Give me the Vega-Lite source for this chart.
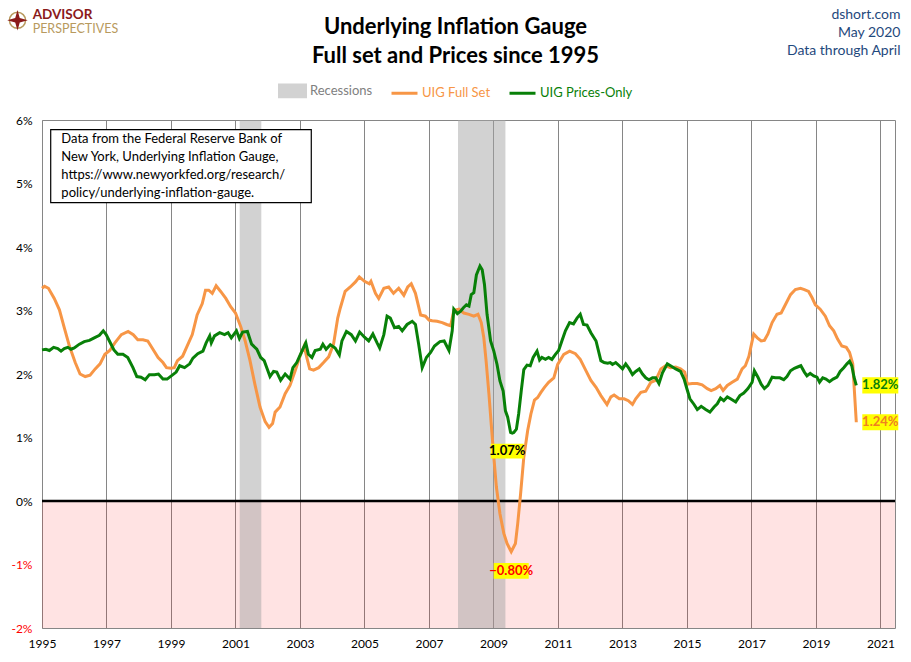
{
  "$schema": "https://vega.github.io/schema/vega-lite/v6.json",
  "width": 853,
  "height": 508,
  "autosize": {"type": "none"},
  "padding": {"left": 42, "top": 120, "right": 16, "bottom": 34},
  "background": "white",
  "title": {
    "text": ["Underlying Inflation Gauge", "Full set and Prices since 1995"],
    "font": "Lato",
    "fontSize": 22,
    "fontWeight": "bold",
    "lineHeight": 29,
    "anchor": "middle",
    "frame": "group",
    "dx": -13,
    "dy": 70,
    "offset": 10,
    "color": "#000000"
  },
  "datasets": {
    "recessions": [
      {"start": 2001.13, "end": 2001.8},
      {"start": 2007.9, "end": 2009.37}
    ],
    "full": [
      {"t": 1995.00, "v": 3.35}, {"t": 1995.08, "v": 3.38}, {"t": 1995.20, "v": 3.35}, {"t": 1995.38, "v": 3.19},
      {"t": 1995.54, "v": 3.01}, {"t": 1995.69, "v": 2.73}, {"t": 1995.85, "v": 2.44}, {"t": 1996.03, "v": 2.18},
      {"t": 1996.18, "v": 2.00}, {"t": 1996.34, "v": 1.96}, {"t": 1996.49, "v": 1.98}, {"t": 1996.65, "v": 2.08},
      {"t": 1996.80, "v": 2.16}, {"t": 1996.95, "v": 2.31}, {"t": 1997.10, "v": 2.37}, {"t": 1997.26, "v": 2.49},
      {"t": 1997.46, "v": 2.62}, {"t": 1997.67, "v": 2.67}, {"t": 1997.83, "v": 2.62}, {"t": 1997.97, "v": 2.54},
      {"t": 1998.13, "v": 2.54}, {"t": 1998.28, "v": 2.52}, {"t": 1998.44, "v": 2.39}, {"t": 1998.60, "v": 2.26},
      {"t": 1998.75, "v": 2.18}, {"t": 1998.86, "v": 2.10}, {"t": 1999.00, "v": 2.09}, {"t": 1999.10, "v": 2.10},
      {"t": 1999.20, "v": 2.21}, {"t": 1999.36, "v": 2.28}, {"t": 1999.50, "v": 2.44}, {"t": 1999.66, "v": 2.62},
      {"t": 1999.81, "v": 2.93}, {"t": 1999.97, "v": 3.11}, {"t": 2000.07, "v": 3.32}, {"t": 2000.17, "v": 3.32},
      {"t": 2000.28, "v": 3.27}, {"t": 2000.40, "v": 3.39}, {"t": 2000.54, "v": 3.30}, {"t": 2000.70, "v": 3.19},
      {"t": 2000.85, "v": 3.06}, {"t": 2001.00, "v": 2.96}, {"t": 2001.16, "v": 2.75}, {"t": 2001.30, "v": 2.52},
      {"t": 2001.45, "v": 2.21}, {"t": 2001.60, "v": 1.84}, {"t": 2001.76, "v": 1.48}, {"t": 2001.92, "v": 1.25},
      {"t": 2002.04, "v": 1.16}, {"t": 2002.15, "v": 1.22}, {"t": 2002.23, "v": 1.40}, {"t": 2002.38, "v": 1.48},
      {"t": 2002.54, "v": 1.69}, {"t": 2002.69, "v": 1.82}, {"t": 2002.85, "v": 2.05}, {"t": 2003.00, "v": 2.28},
      {"t": 2003.13, "v": 2.44}, {"t": 2003.21, "v": 2.26}, {"t": 2003.30, "v": 2.08}, {"t": 2003.42, "v": 2.06},
      {"t": 2003.58, "v": 2.10}, {"t": 2003.73, "v": 2.18}, {"t": 2003.89, "v": 2.27}, {"t": 2004.04, "v": 2.47},
      {"t": 2004.17, "v": 2.88}, {"t": 2004.25, "v": 3.04}, {"t": 2004.40, "v": 3.30}, {"t": 2004.56, "v": 3.37},
      {"t": 2004.72, "v": 3.45}, {"t": 2004.84, "v": 3.53}, {"t": 2005.00, "v": 3.46}, {"t": 2005.15, "v": 3.42},
      {"t": 2005.20, "v": 3.46}, {"t": 2005.34, "v": 3.27}, {"t": 2005.44, "v": 3.19}, {"t": 2005.60, "v": 3.35},
      {"t": 2005.75, "v": 3.37}, {"t": 2005.90, "v": 3.27}, {"t": 2006.06, "v": 3.35}, {"t": 2006.22, "v": 3.24},
      {"t": 2006.34, "v": 3.37}, {"t": 2006.45, "v": 3.42}, {"t": 2006.58, "v": 3.27}, {"t": 2006.74, "v": 2.93},
      {"t": 2006.89, "v": 2.91}, {"t": 2007.00, "v": 2.85}, {"t": 2007.10, "v": 2.84}, {"t": 2007.25, "v": 2.83},
      {"t": 2007.41, "v": 2.81}, {"t": 2007.55, "v": 2.78}, {"t": 2007.67, "v": 2.76}, {"t": 2007.77, "v": 3.00},
      {"t": 2007.93, "v": 3.02}, {"t": 2008.08, "v": 2.96}, {"t": 2008.24, "v": 2.94}, {"t": 2008.39, "v": 2.91},
      {"t": 2008.52, "v": 2.94}, {"t": 2008.62, "v": 2.81}, {"t": 2008.70, "v": 2.57}, {"t": 2008.77, "v": 2.21},
      {"t": 2008.86, "v": 1.68}, {"t": 2008.93, "v": 1.21}, {"t": 2009.01, "v": 0.69}, {"t": 2009.09, "v": 0.22},
      {"t": 2009.20, "v": -0.20}, {"t": 2009.32, "v": -0.51}, {"t": 2009.42, "v": -0.67}, {"t": 2009.55, "v": -0.80},
      {"t": 2009.68, "v": -0.67}, {"t": 2009.75, "v": -0.36}, {"t": 2009.84, "v": 0.11}, {"t": 2009.94, "v": 0.69},
      {"t": 2010.06, "v": 1.11}, {"t": 2010.16, "v": 1.37}, {"t": 2010.27, "v": 1.59}, {"t": 2010.37, "v": 1.63},
      {"t": 2010.47, "v": 1.71}, {"t": 2010.58, "v": 1.79}, {"t": 2010.71, "v": 1.87}, {"t": 2010.87, "v": 1.94},
      {"t": 2010.99, "v": 2.15}, {"t": 2011.18, "v": 2.31}, {"t": 2011.36, "v": 2.36}, {"t": 2011.54, "v": 2.32},
      {"t": 2011.69, "v": 2.23}, {"t": 2011.87, "v": 2.05}, {"t": 2012.02, "v": 1.90}, {"t": 2012.18, "v": 1.79},
      {"t": 2012.33, "v": 1.66}, {"t": 2012.52, "v": 1.52}, {"t": 2012.64, "v": 1.64}, {"t": 2012.74, "v": 1.67},
      {"t": 2012.90, "v": 1.61}, {"t": 2013.05, "v": 1.61}, {"t": 2013.18, "v": 1.58}, {"t": 2013.31, "v": 1.52},
      {"t": 2013.41, "v": 1.61}, {"t": 2013.57, "v": 1.71}, {"t": 2013.72, "v": 1.73}, {"t": 2013.88, "v": 1.87},
      {"t": 2014.03, "v": 1.90}, {"t": 2014.19, "v": 2.08}, {"t": 2014.34, "v": 2.13}, {"t": 2014.49, "v": 2.10},
      {"t": 2014.65, "v": 2.11}, {"t": 2014.80, "v": 2.08}, {"t": 2014.93, "v": 2.03}, {"t": 2015.01, "v": 1.84},
      {"t": 2015.16, "v": 1.85}, {"t": 2015.32, "v": 1.85}, {"t": 2015.47, "v": 1.83}, {"t": 2015.63, "v": 1.77},
      {"t": 2015.75, "v": 1.74}, {"t": 2015.89, "v": 1.77}, {"t": 2016.02, "v": 1.82}, {"t": 2016.12, "v": 1.74},
      {"t": 2016.25, "v": 1.82}, {"t": 2016.40, "v": 1.87}, {"t": 2016.56, "v": 1.92}, {"t": 2016.71, "v": 2.08},
      {"t": 2016.81, "v": 2.13}, {"t": 2016.92, "v": 2.28}, {"t": 2017.00, "v": 2.47}, {"t": 2017.07, "v": 2.63},
      {"t": 2017.18, "v": 2.57}, {"t": 2017.30, "v": 2.52}, {"t": 2017.40, "v": 2.53}, {"t": 2017.51, "v": 2.63},
      {"t": 2017.64, "v": 2.81}, {"t": 2017.79, "v": 2.94}, {"t": 2017.92, "v": 2.96}, {"t": 2018.05, "v": 3.09},
      {"t": 2018.21, "v": 3.25}, {"t": 2018.36, "v": 3.33}, {"t": 2018.52, "v": 3.35}, {"t": 2018.64, "v": 3.33},
      {"t": 2018.77, "v": 3.30}, {"t": 2018.88, "v": 3.20}, {"t": 2018.98, "v": 3.09}, {"t": 2019.13, "v": 3.02},
      {"t": 2019.29, "v": 2.91}, {"t": 2019.42, "v": 2.76}, {"t": 2019.55, "v": 2.68}, {"t": 2019.67, "v": 2.55},
      {"t": 2019.80, "v": 2.44}, {"t": 2019.94, "v": 2.42}, {"t": 2020.04, "v": 2.34}, {"t": 2020.14, "v": 2.16},
      {"t": 2020.25, "v": 1.24}
    ],
    "prices": [
      {"t": 1995.00, "v": 2.38}, {"t": 1995.12, "v": 2.39}, {"t": 1995.23, "v": 2.37}, {"t": 1995.36, "v": 2.42},
      {"t": 1995.49, "v": 2.40}, {"t": 1995.59, "v": 2.36}, {"t": 1995.69, "v": 2.40}, {"t": 1995.80, "v": 2.42},
      {"t": 1995.90, "v": 2.39}, {"t": 1996.00, "v": 2.41}, {"t": 1996.16, "v": 2.47}, {"t": 1996.31, "v": 2.51},
      {"t": 1996.47, "v": 2.53}, {"t": 1996.62, "v": 2.57}, {"t": 1996.78, "v": 2.61}, {"t": 1996.90, "v": 2.68},
      {"t": 1996.99, "v": 2.62}, {"t": 1997.09, "v": 2.52}, {"t": 1997.23, "v": 2.38}, {"t": 1997.35, "v": 2.31},
      {"t": 1997.51, "v": 2.31}, {"t": 1997.66, "v": 2.26}, {"t": 1997.82, "v": 2.10}, {"t": 1997.94, "v": 1.96},
      {"t": 1998.07, "v": 1.95}, {"t": 1998.20, "v": 1.91}, {"t": 1998.33, "v": 1.99}, {"t": 1998.49, "v": 1.99},
      {"t": 1998.61, "v": 2.00}, {"t": 1998.75, "v": 1.92}, {"t": 1998.88, "v": 1.92}, {"t": 1999.01, "v": 1.97},
      {"t": 1999.16, "v": 2.03}, {"t": 1999.27, "v": 2.13}, {"t": 1999.42, "v": 2.10}, {"t": 1999.58, "v": 2.16},
      {"t": 1999.68, "v": 2.25}, {"t": 1999.83, "v": 2.32}, {"t": 1999.99, "v": 2.36}, {"t": 2000.09, "v": 2.49},
      {"t": 2000.20, "v": 2.60}, {"t": 2000.25, "v": 2.49}, {"t": 2000.35, "v": 2.60}, {"t": 2000.51, "v": 2.65},
      {"t": 2000.66, "v": 2.62}, {"t": 2000.77, "v": 2.65}, {"t": 2000.87, "v": 2.57}, {"t": 2001.03, "v": 2.68},
      {"t": 2001.12, "v": 2.56}, {"t": 2001.22, "v": 2.66}, {"t": 2001.37, "v": 2.67}, {"t": 2001.50, "v": 2.47},
      {"t": 2001.66, "v": 2.39}, {"t": 2001.78, "v": 2.26}, {"t": 2001.89, "v": 2.21}, {"t": 2001.97, "v": 2.10},
      {"t": 2002.07, "v": 1.96}, {"t": 2002.18, "v": 2.04}, {"t": 2002.28, "v": 2.03}, {"t": 2002.40, "v": 1.90},
      {"t": 2002.54, "v": 2.00}, {"t": 2002.69, "v": 1.92}, {"t": 2002.78, "v": 2.10}, {"t": 2002.90, "v": 2.18},
      {"t": 2003.06, "v": 2.36}, {"t": 2003.18, "v": 2.49}, {"t": 2003.26, "v": 2.31}, {"t": 2003.37, "v": 2.26},
      {"t": 2003.47, "v": 2.37}, {"t": 2003.63, "v": 2.39}, {"t": 2003.71, "v": 2.47}, {"t": 2003.81, "v": 2.39},
      {"t": 2003.94, "v": 2.46}, {"t": 2004.09, "v": 2.41}, {"t": 2004.22, "v": 2.30}, {"t": 2004.30, "v": 2.52},
      {"t": 2004.44, "v": 2.67}, {"t": 2004.59, "v": 2.62}, {"t": 2004.72, "v": 2.52}, {"t": 2004.85, "v": 2.66},
      {"t": 2005.00, "v": 2.58}, {"t": 2005.13, "v": 2.52}, {"t": 2005.26, "v": 2.63}, {"t": 2005.39, "v": 2.49},
      {"t": 2005.47, "v": 2.41}, {"t": 2005.60, "v": 2.62}, {"t": 2005.70, "v": 2.91}, {"t": 2005.80, "v": 2.88},
      {"t": 2005.93, "v": 2.73}, {"t": 2006.06, "v": 2.75}, {"t": 2006.17, "v": 2.68}, {"t": 2006.32, "v": 2.78},
      {"t": 2006.48, "v": 2.83}, {"t": 2006.58, "v": 2.78}, {"t": 2006.68, "v": 2.47}, {"t": 2006.79, "v": 2.10},
      {"t": 2006.92, "v": 2.26}, {"t": 2007.05, "v": 2.34}, {"t": 2007.17, "v": 2.44}, {"t": 2007.34, "v": 2.51},
      {"t": 2007.47, "v": 2.52}, {"t": 2007.62, "v": 2.37}, {"t": 2007.72, "v": 2.68}, {"t": 2007.77, "v": 3.02},
      {"t": 2007.88, "v": 2.95}, {"t": 2007.98, "v": 2.99}, {"t": 2008.06, "v": 3.04}, {"t": 2008.16, "v": 3.09},
      {"t": 2008.24, "v": 3.07}, {"t": 2008.31, "v": 3.25}, {"t": 2008.39, "v": 3.28}, {"t": 2008.47, "v": 3.56},
      {"t": 2008.58, "v": 3.70}, {"t": 2008.65, "v": 3.64}, {"t": 2008.72, "v": 3.41}, {"t": 2008.80, "v": 2.94},
      {"t": 2008.91, "v": 2.52}, {"t": 2009.01, "v": 2.36}, {"t": 2009.11, "v": 2.15}, {"t": 2009.20, "v": 1.89},
      {"t": 2009.30, "v": 1.73}, {"t": 2009.37, "v": 1.42}, {"t": 2009.44, "v": 1.32}, {"t": 2009.53, "v": 1.08},
      {"t": 2009.58, "v": 1.07}, {"t": 2009.63, "v": 1.08}, {"t": 2009.71, "v": 1.13}, {"t": 2009.78, "v": 1.37},
      {"t": 2009.86, "v": 1.73}, {"t": 2009.94, "v": 2.07}, {"t": 2010.04, "v": 2.14}, {"t": 2010.14, "v": 2.13},
      {"t": 2010.23, "v": 2.26}, {"t": 2010.35, "v": 2.36}, {"t": 2010.43, "v": 2.22}, {"t": 2010.50, "v": 2.26},
      {"t": 2010.61, "v": 2.23}, {"t": 2010.71, "v": 2.26}, {"t": 2010.81, "v": 2.23}, {"t": 2010.92, "v": 2.31},
      {"t": 2011.02, "v": 2.37}, {"t": 2011.12, "v": 2.52}, {"t": 2011.23, "v": 2.68}, {"t": 2011.36, "v": 2.81},
      {"t": 2011.48, "v": 2.79}, {"t": 2011.59, "v": 2.88}, {"t": 2011.69, "v": 2.94}, {"t": 2011.79, "v": 2.78},
      {"t": 2011.90, "v": 2.77}, {"t": 2012.02, "v": 2.65}, {"t": 2012.18, "v": 2.52}, {"t": 2012.33, "v": 2.21},
      {"t": 2012.43, "v": 2.18}, {"t": 2012.54, "v": 2.17}, {"t": 2012.62, "v": 2.18}, {"t": 2012.69, "v": 2.15},
      {"t": 2012.79, "v": 2.18}, {"t": 2012.90, "v": 2.13}, {"t": 2013.00, "v": 2.08}, {"t": 2013.10, "v": 2.16},
      {"t": 2013.21, "v": 2.08}, {"t": 2013.31, "v": 1.99}, {"t": 2013.41, "v": 2.04}, {"t": 2013.52, "v": 2.08},
      {"t": 2013.62, "v": 2.00}, {"t": 2013.72, "v": 1.94}, {"t": 2013.82, "v": 1.91}, {"t": 2013.93, "v": 1.94},
      {"t": 2014.03, "v": 1.94}, {"t": 2014.13, "v": 1.85}, {"t": 2014.24, "v": 2.02}, {"t": 2014.39, "v": 2.16},
      {"t": 2014.49, "v": 2.13}, {"t": 2014.65, "v": 2.08}, {"t": 2014.80, "v": 2.04}, {"t": 2014.91, "v": 1.92},
      {"t": 2014.99, "v": 1.78}, {"t": 2015.09, "v": 1.61}, {"t": 2015.22, "v": 1.52}, {"t": 2015.32, "v": 1.44},
      {"t": 2015.44, "v": 1.49}, {"t": 2015.58, "v": 1.44}, {"t": 2015.71, "v": 1.40}, {"t": 2015.84, "v": 1.48},
      {"t": 2015.94, "v": 1.53}, {"t": 2016.04, "v": 1.62}, {"t": 2016.14, "v": 1.58}, {"t": 2016.25, "v": 1.64},
      {"t": 2016.35, "v": 1.61}, {"t": 2016.51, "v": 1.56}, {"t": 2016.64, "v": 1.66}, {"t": 2016.76, "v": 1.70},
      {"t": 2016.89, "v": 1.77}, {"t": 2017.02, "v": 1.87}, {"t": 2017.09, "v": 2.05}, {"t": 2017.20, "v": 1.95},
      {"t": 2017.30, "v": 1.84}, {"t": 2017.40, "v": 1.77}, {"t": 2017.51, "v": 1.82}, {"t": 2017.64, "v": 1.95},
      {"t": 2017.74, "v": 1.94}, {"t": 2017.88, "v": 1.94}, {"t": 2018.00, "v": 1.91}, {"t": 2018.10, "v": 1.96},
      {"t": 2018.21, "v": 2.05}, {"t": 2018.33, "v": 2.09}, {"t": 2018.43, "v": 2.11}, {"t": 2018.53, "v": 2.13},
      {"t": 2018.64, "v": 2.03}, {"t": 2018.72, "v": 1.97}, {"t": 2018.82, "v": 2.01}, {"t": 2018.93, "v": 1.97},
      {"t": 2019.03, "v": 1.95}, {"t": 2019.11, "v": 1.87}, {"t": 2019.21, "v": 1.94}, {"t": 2019.31, "v": 1.92},
      {"t": 2019.42, "v": 1.88}, {"t": 2019.53, "v": 1.92}, {"t": 2019.65, "v": 1.95}, {"t": 2019.75, "v": 2.04},
      {"t": 2019.86, "v": 2.10}, {"t": 2019.96, "v": 2.16}, {"t": 2020.04, "v": 2.20}, {"t": 2020.11, "v": 2.13},
      {"t": 2020.18, "v": 1.95}, {"t": 2020.25, "v": 1.82}
    ]
  },
  "layer": [
    {
      "data": {"values": [{}]},
      "mark": {"type": "rect", "fill": "#ff0000", "fillOpacity": 0.11},
      "encoding": {
        "y": {"datum": 0, "type": "quantitative", "scale": {"domain": [-2, 6], "nice": false, "zero": false}},
        "y2": {"datum": -2}
      }
    },
    {
      "data": {"name": "recessions"},
      "mark": {"type": "rect", "fill": "#a6a6a6", "opacity": 0.5},
      "encoding": {
        "x": {"field": "start", "type": "quantitative", "scale": {"domain": [1995, 2021.45], "nice": false, "zero": false}},
        "x2": {"field": "end"}
      }
    },
    {
      "data": {"values": [{}]},
      "mark": {"type": "rule", "color": "#000000", "strokeWidth": 2.5},
      "encoding": {"y": {"datum": 0, "type": "quantitative"}}
    },
    {
      "data": {"name": "full"},
      "mark": {"type": "line", "strokeWidth": 3},
      "encoding": {
        "x": {
          "field": "t",
          "type": "quantitative",
          "scale": {"domain": [1995, 2021.45], "nice": false, "zero": false},
          "axis": {
            "title": null,
            "values": [1995, 1996, 1997, 1998, 1999, 2000, 2001, 2002, 2003, 2004, 2005, 2006, 2007, 2008, 2009, 2010, 2011, 2012, 2013, 2014, 2015, 2016, 2017, 2018, 2019, 2020, 2021],
            "format": "d",
            "labelExpr": "datum.value % 2 == 1 ? datum.label : ''",
            "gridColor": {"condition": {"test": "datum.value % 2 == 0", "value": "#d9d9d9"}, "value": "#868686"},
            "ticks": false,
            "domain": false,
            "labelPadding": 10,
            "labelOverlap": false,
            "labelFlush": false
          }
        },
        "y": {
          "field": "v",
          "type": "quantitative",
          "scale": {"domain": [-2, 6], "nice": false, "zero": false},
          "axis": {
            "title": null,
            "values": [-2, -1, 0, 1, 2, 3, 4, 5, 6],
            "labelExpr": "datum.value + '%'",
            "labelColor": {"condition": {"test": "datum.value < 0", "value": "#ff0000"}, "value": "#000000"},
            "gridColor": "#868686",
            "ticks": false,
            "domain": false,
            "labelPadding": 10
          }
        },
        "color": {
          "datum": "UIG Full Set",
          "scale": {
            "domain": ["Recessions", "UIG Full Set", "UIG Prices-Only"],
            "range": ["#d2d2d2", "#f79646", "#088008"]
          },
          "legend": {
            "title": null,
            "orient": "none",
            "legendX": 236,
            "legendY": -44,
            "direction": "horizontal",
            "labelFont": "Lato",
            "labelFontSize": 13,
            "labelOffset": 3,
            "columnPadding": 12,
            "symbolSize": 676,
            "encode": {
              "labels": {
                "update": {
                  "fill": {"signal": "datum.value === 'Recessions' ? '#808080' : datum.value === 'UIG Full Set' ? '#f79646' : '#088008'"}
                }
              },
              "symbols": {
                "update": {
                  "shape": {"signal": "datum.value === 'Recessions' ? 'M-1,-0.45H1V0.45H-1Z' : 'M-1,0H1'"},
                  "fill": {"signal": "datum.value === 'Recessions' ? '#d2d2d2' : 'transparent'"},
                  "stroke": {"signal": "datum.value === 'Recessions' ? 'transparent' : datum.value === 'UIG Full Set' ? '#f79646' : '#088008'"},
                  "strokeWidth": {"value": 3},
                  "opacity": {"value": 1}
                }
              }
            }
          }
        }
      }
    },
    {
      "data": {"name": "prices"},
      "mark": {"type": "line", "strokeWidth": 3},
      "encoding": {
        "x": {"field": "t", "type": "quantitative"},
        "y": {"field": "v", "type": "quantitative"},
        "color": {"datum": "UIG Prices-Only"}
      }
    },
    {
      "data": {"name": "full"},
      "transform": [
        {"joinaggregate": [{"op": "min", "field": "v", "as": "mn"}]},
        {"filter": "datum.v === datum.mn"},
        {"calculate": "format(datum.v, '.2f') + '%'", "as": "lab"}
      ],
      "encoding": {
        "x": {"field": "t", "type": "quantitative"},
        "y": {"field": "v", "type": "quantitative"}
      },
      "layer": [
        {"mark": {"type": "point", "shape": "M-1,-0.45H1V0.45H-1Z", "size": 1225, "filled": true, "color": "#ffff00", "opacity": 1, "yOffset": 19}},
        {"mark": {"type": "text", "font": "Lato", "fontSize": 13, "fontWeight": "bold", "color": "#ff0000", "yOffset": 19}, "encoding": {"text": {"field": "lab"}}}
      ]
    },
    {
      "data": {"name": "prices"},
      "transform": [
        {"joinaggregate": [{"op": "min", "field": "v", "as": "mn"}]},
        {"filter": "datum.v === datum.mn"},
        {"calculate": "format(datum.v, '.2f') + '%'", "as": "lab"}
      ],
      "encoding": {
        "x": {"field": "t", "type": "quantitative"},
        "y": {"field": "v", "type": "quantitative"}
      },
      "layer": [
        {"mark": {"type": "point", "shape": "M-1,-0.45H1V0.45H-1Z", "size": 1089, "filled": true, "color": "#ffff00", "opacity": 1, "xOffset": -5, "yOffset": 18}},
        {"mark": {"type": "text", "font": "Lato", "fontSize": 13, "fontWeight": "bold", "color": "#000000", "xOffset": -5, "yOffset": 18}, "encoding": {"text": {"field": "lab"}}}
      ]
    },
    {
      "data": {"name": "full"},
      "transform": [
        {"joinaggregate": [{"op": "max", "field": "t", "as": "mx"}]},
        {"filter": "datum.t === datum.mx"},
        {"calculate": "format(datum.v, '.2f') + '%'", "as": "lab"}
      ],
      "encoding": {
        "x": {"field": "t", "type": "quantitative"},
        "y": {"field": "v", "type": "quantitative"}
      },
      "layer": [
        {"mark": {"type": "point", "shape": "M-1,-0.45H1V0.45H-1Z", "size": 1296, "filled": true, "color": "#ffff00", "opacity": 1, "xOffset": 24}},
        {"mark": {"type": "text", "font": "Lato", "fontSize": 13, "fontWeight": "bold", "color": "#f08020", "xOffset": 24}, "encoding": {"text": {"field": "lab"}}}
      ]
    },
    {
      "data": {"name": "prices"},
      "transform": [
        {"joinaggregate": [{"op": "max", "field": "t", "as": "mx"}]},
        {"filter": "datum.t === datum.mx"},
        {"calculate": "format(datum.v, '.2f') + '%'", "as": "lab"}
      ],
      "encoding": {
        "x": {"field": "t", "type": "quantitative"},
        "y": {"field": "v", "type": "quantitative"}
      },
      "layer": [
        {"mark": {"type": "point", "shape": "M-1,-0.45H1V0.45H-1Z", "size": 1296, "filled": true, "color": "#ffff00", "opacity": 1, "xOffset": 24}},
        {"mark": {"type": "text", "font": "Lato", "fontSize": 13, "fontWeight": "bold", "color": "#088008", "xOffset": 24}, "encoding": {"text": {"field": "lab"}}}
      ]
    },
    {
      "data": {"values": [{}]},
      "mark": {"type": "rect", "fill": "#ffffff", "stroke": "#000000", "strokeWidth": 1.2},
      "encoding": {
        "x": {"datum": 1995.27, "type": "quantitative"},
        "x2": {"datum": 2003.35},
        "y": {"datum": 5.85, "type": "quantitative"},
        "y2": {"datum": 4.7}
      }
    },
    {
      "data": {"values": [{}]},
      "mark": {
        "type": "text",
        "align": "left",
        "baseline": "top",
        "font": "Lato",
        "fontSize": 13,
        "lineHeight": 18,
        "color": "#000000",
        "text": ["Data from the Federal Reserve Bank of", "New York, Underlying Inflation Gauge,", "https://www.newyorkfed.org/research/", "policy/underlying-inflation-gauge."]
      },
      "encoding": {
        "x": {"datum": 1995.6, "type": "quantitative"},
        "y": {"datum": 5.8, "type": "quantitative"}
      }
    },
    {
      "data": {"values": [{}]},
      "mark": {
        "type": "text",
        "align": "right",
        "baseline": "top",
        "font": "Lato",
        "fontSize": 14,
        "lineHeight": 18,
        "color": "#1f497d",
        "text": ["dshort.com", "May 2020", "Data through April"]
      },
      "encoding": {
        "x": {"datum": 2021.62, "type": "quantitative"},
        "y": {"datum": 7.76, "type": "quantitative"}
      }
    },
    {
      "data": {"values": [{}]},
      "mark": {"type": "text", "align": "left", "baseline": "top", "font": "Lato", "fontSize": 13.5, "fontWeight": "bold", "color": "#8b1a1a", "text": "ADVISOR"},
      "encoding": {
        "x": {"datum": 1994.71, "type": "quantitative"},
        "y": {"datum": 7.76, "type": "quantitative"}
      }
    },
    {
      "data": {"values": [{}]},
      "mark": {"type": "text", "align": "left", "baseline": "top", "font": "Lato", "fontSize": 12.5, "color": "#b89a5e", "text": "PERSPECTIVES"},
      "encoding": {
        "x": {"datum": 1994.71, "type": "quantitative"},
        "y": {"datum": 7.52, "type": "quantitative"}
      }
    },
    {
      "data": {"values": [{}]},
      "mark": {"type": "point", "shape": "circle", "size": 260, "filled": false, "color": "#b89a5e", "strokeWidth": 1.5, "opacity": 1},
      "encoding": {
        "x": {"datum": 1994.24, "type": "quantitative"},
        "y": {"datum": 7.57, "type": "quantitative"}
      }
    },
    {
      "data": {"values": [{}]},
      "mark": {"type": "point", "shape": "M0,-1L0.22,-0.22L1,0L0.22,0.22L0,1L-0.22,0.22L-1,0L-0.22,-0.22Z", "size": 420, "filled": true, "color": "#8b1a1a", "opacity": 1},
      "encoding": {
        "x": {"datum": 1994.24, "type": "quantitative"},
        "y": {"datum": 7.57, "type": "quantitative"}
      }
    }
  ],
  "config": {
    "view": {"stroke": "#868686", "strokeWidth": 1},
    "axis": {
      "labelFont": "Lato",
      "labelFontSize": 12,
      "labelColor": "#000000",
      "gridWidth": 1,
      "gridOpacity": 1
    },
    "text": {"font": "Lato"}
  }
}
